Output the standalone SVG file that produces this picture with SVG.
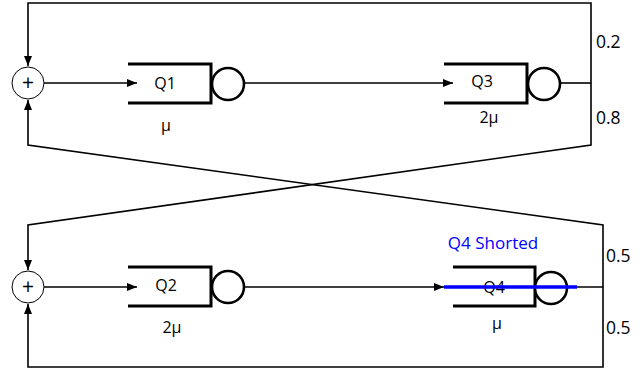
<svg xmlns="http://www.w3.org/2000/svg" width="644" height="371" viewBox="0 0 644 371">
<style>
.w{fill:none;stroke:#000;stroke-width:1.6}
.q{fill:none;stroke:#000;stroke-width:3}
.s{fill:#fff;stroke:#000;stroke-width:2.6}
.sum{fill:#fff;stroke:#000;stroke-width:1}
text{font-family:"Open Sans","Liberation Sans",sans-serif;font-size:16px;fill:#000}
.p{font-size:17.5px}
.c{text-anchor:middle}
.plus{font-size:21px}
</style>
<defs>
<marker id="ah" markerWidth="10" markerHeight="8" refX="10" refY="4" orient="auto" markerUnits="userSpaceOnUse">
<path d="M0,0 L10,4 L0,8 Z" fill="#000"/>
</marker>
</defs>
<rect width="644" height="371" fill="#fff"/>
<g id="connectors">
<path class="w" d="M591,83 V3 H28 V66" marker-end="url(#ah)"/>
<path class="w" d="M591,83 V145 L28,225 V270" marker-end="url(#ah)"/>
<path class="w" d="M603,287 V225 L28,145 V100" marker-end="url(#ah)"/>
<path class="w" d="M603,287 V367 H28 V304" marker-end="url(#ah)"/>
<path class="w" d="M44,83 H137" marker-end="url(#ah)"/>
<path class="w" d="M245,83 H453" marker-end="url(#ah)"/>
<path class="w" d="M560,83 H591"/>
<path class="w" d="M44,287 H137" marker-end="url(#ah)"/>
<path class="w" d="M245,287 H444" marker-end="url(#ah)"/>
<path class="w" d="M567,287 H603"/>
</g>
<g id="sum1"><circle class="sum" cx="28" cy="83" r="16"/><text class="c plus" x="28" y="90">+</text></g>
<g id="sum2"><circle class="sum" cx="28" cy="287" r="16"/><text class="c plus" x="28" y="294">+</text></g>
<g id="Q1">
<path class="q" d="M128,64 H211 V103 H128"/>
<circle class="s" cx="228" cy="84" r="16"/>
<text class="c" x="165" y="89">Q1</text>
<text class="c" x="166" y="131">μ</text>
</g>
<g id="Q3">
<path class="q" d="M444,64 H527 V103 H444"/>
<circle class="s" cx="544" cy="84" r="16"/>
<text class="c" x="482" y="87">Q3</text>
<text class="c" x="489" y="123">2μ</text>
</g>
<g id="Q2">
<path class="q" d="M128,267 H211 V306 H128"/>
<circle class="s" cx="228" cy="287" r="16"/>
<text class="c" x="166" y="291">Q2</text>
<text class="c" x="172" y="333">2μ</text>
</g>
<g id="Q4">
<path class="q" d="M453,267 H535 V306 H453"/>
<circle class="s" cx="551" cy="288" r="16"/>
<text class="c" x="494" y="293">Q4</text>
<text class="c" x="497" y="329">μ</text>
<line x1="444" y1="287" x2="577" y2="287" stroke="#0000ff" stroke-width="3.5"/>
<text class="c" x="493" y="249" style="fill:#0000ff;font-size:17px">Q4 Shorted</text>
</g>
<g id="labels">
<text class="p" x="596" y="48">0.2</text>
<text class="p" x="596" y="124">0.8</text>
<text class="p" x="606" y="262">0.5</text>
<text class="p" x="606" y="334">0.5</text>
</g>
</svg>
